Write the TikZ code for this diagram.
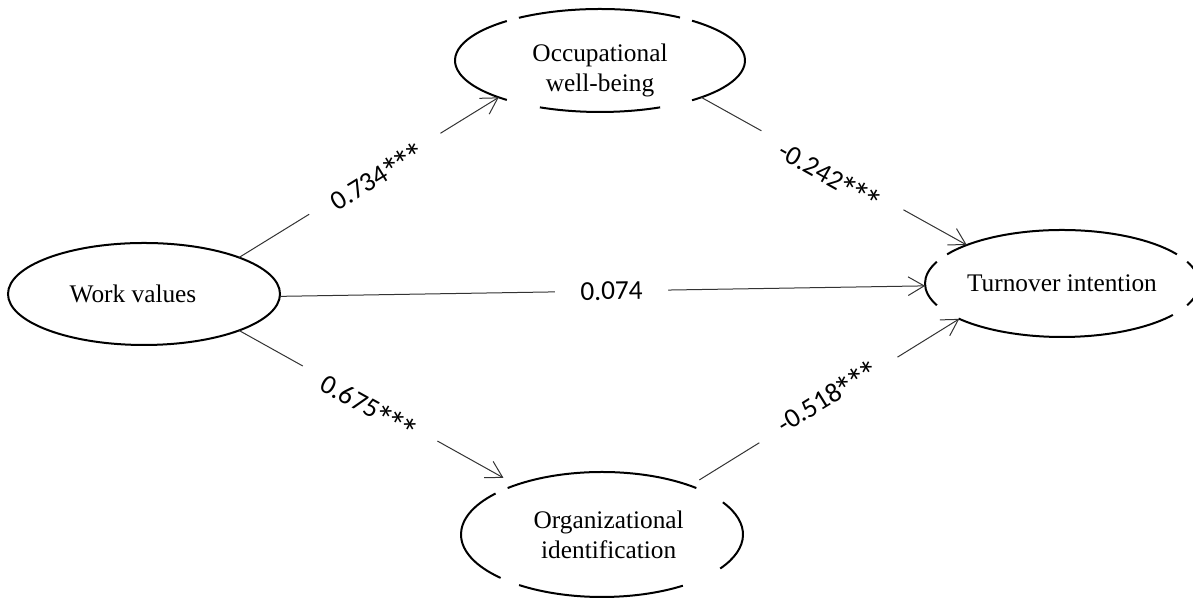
\documentclass[tikz,border=0pt]{standalone}
\usepackage{graphicx}
\usepackage{fontspec}
\setmainfont{Liberation Serif}
\newfontfamily\coeffont{Carlito}
\usetikzlibrary{arrows.meta,shapes.geometric}

% significance star, enlarged and centred on the digits
\newcommand\sigmark{\makebox[0.5em]{\raisebox{-0.28em}{\scalebox{1.4}{*}}}}
\newcommand\threestars{\sigmark\sigmark\sigmark}

\begin{document}
\begin{tikzpicture}[x=0.75pt,y=0.75pt,
  construct/.style={ellipse, inner sep=0pt, outer sep=0pt, align=center,
    font=\fontsize{19}{22.5}\selectfont},
  oval/.style={line width=1.5pt, black},
  effect/.style={draw=black!80, line width=0.75pt,
    -{Straight Barb[length=12pt,width=14pt,line width=0.75pt]}},
  coef/.style={fill=white, inner xsep=19pt, inner ysep=1pt, sloped,
    font=\coeffont\fontsize{20.5}{24}\selectfont}
]
\useasboundingbox (0,0) rectangle (1193,605);
\clip (0,0) rectangle (1193,605);

% constructs
\node[construct, draw, line width=1.5pt, minimum width=204pt, minimum height=76.5pt]
  (wv) at (144,311) {Work values\hspace*{16.5pt}};
\node[construct, minimum width=217.5pt, minimum height=77.25pt]
  (owb) at (600,544.5) {\rule{0pt}{27.5pt}Occupational\\well-being};
\node[construct, minimum width=205.5pt, minimum height=80.25pt]
  (ti) at (1062,321.5) {Turnover intention};
\node[construct, minimum width=211.5pt, minimum height=93.75pt]
  (oi) at (602,70.5) {\hspace*{10pt}Organizational\\\hspace*{10pt}identification};

% broken outlines of the three other constructs
\foreach \a/\b in {56.5/124, 130/230, 245.5/294.5, -50.6/50.6}
  \draw[oval] ([shift={(\a:145 and 51.5)}]owb.center)
    arc[start angle=\a, end angle=\b, x radius=145, y radius=51.5];
\foreach \a/\b in {33/147, 156/204, 221/324, -24/24}
  \draw[oval] ([shift={(\a:137 and 53.5)}]ti.center)
    arc[start angle=\a, end angle=\b, x radius=137, y radius=53.5];
\foreach \a/\b in {48/132, 139/224, 234/305, -33/31}
  \draw[oval] ([shift={(\a:141 and 62.5)}]oi.center)
    arc[start angle=\a, end angle=\b, x radius=141, y radius=62.5];

% paths with standardized coefficients
\draw[effect] (wv.21) -- node[coef, pos=.523, yshift=-5pt] {0.734\threestars} (owb.200);
\draw[effect, shorten >=10.9pt] (wv.-21) -- node[coef, pos=.473, yshift=-5pt] {0.675\threestars} (oi.150);
\draw[effect] (wv.-1) -- node[coef, pos=.514] {0.074} (ti.181);
\draw[effect] (owb.-20) -- node[coef, pos=.494, yshift=-7pt] {-0.242\threestars} (ti.158);
\draw[effect, shorten <=8.25pt] (oi.29) -- node[coef, pos=.514] {-0.518\threestars} (ti.199);
\end{tikzpicture}
\end{document}
